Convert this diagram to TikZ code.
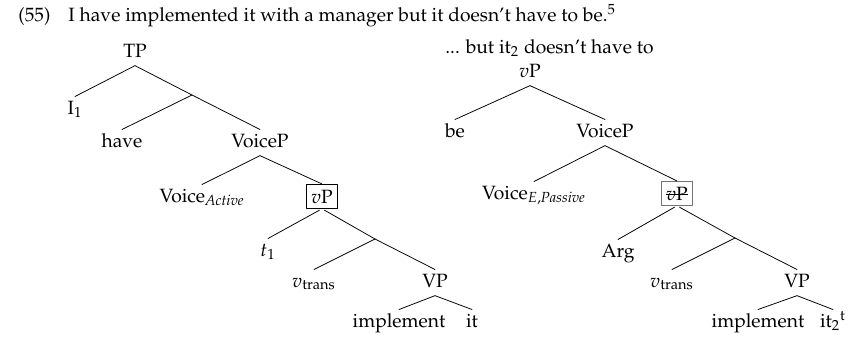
\documentclass[tikz,border=0pt]{standalone}
\usepackage[T1]{fontenc}
\usepackage{mathpazo}
\usepackage{amsmath}
\usepackage{tikz}

% struck-out label
\newcommand{\crossout}[1]{\setbox0\hbox{#1}\rlap{\rule[0.55ex]{\wd0}{0.4pt}}\box0}

\begin{document}
\begin{tikzpicture}[x=0.52pt, y=-0.52pt, line cap=round, line join=round,
    lbl/.style={anchor=base, inner xsep=0pt, inner ysep=1.8pt, text height=7.1pt, text depth=2.5pt},
    boxed/.style={anchor=base, draw, inner xsep=2.5pt, inner ysep=2.8pt, text height=6.9pt, text depth=0pt},
    frombox/.style={shorten <=1.5pt}]

  \useasboundingbox (0,0) rectangle (863,336);

  % Example sentence
  \node[anchor=base west, inner sep=0pt] (num) at (18,21) {(55)};
  \node[anchor=base west, inner sep=0pt] (sent) at (68,21) {I have implemented it with a manager but it doesn't have to be.\textsuperscript{5}};

  %--------------------------
  % Left tree: active
  %--------------------------
  \begin{scope}
    \node[lbl] (tp) at (135,57) {TP};
    \node[lbl] (i1) at (75,114) {I$_1$};
    \coordinate (b1) at (192,95);
    \node[lbl] (have) at (122,147) {have};
    \node[lbl] (vcp) at (260,147) {VoiceP};
    \node[lbl] (vca) at (202,202) {Voice$_{\textit{Active}}$};
    \node[boxed] (vp) at (322,203) {$v$P};
    \node[lbl] (t1) at (268,256) {$t_1$};
    \coordinate (b2) at (375,239);
    \node[lbl] (vt) at (314,287) {$v_{\text{trans}}$};
    \node[lbl] (vpp) at (435,287) {VP};
    \node[lbl] (impl) at (399,327) {implement};
    \node[lbl] (it) at (472,327) {it};

    \draw (tp.south) -- (i1.north);
    \draw (tp.south) -- (b1) -- (vcp.north);
    \draw (b1) -- (have.north);
    \draw (vcp.south) -- (vca.north);
    \draw (vcp.south) -- (vp.north);
    \draw[frombox] (vp.south) -- (t1.north);
    \draw[frombox] (vp.south) -- (b2);
    \draw (b2) -- (vpp.north);
    \draw (b2) -- (vt.north);
    \draw (vpp.south) -- (impl.north);
    \draw (vpp.south) -- (it.north);
  \end{scope}

  %--------------------------
  % Right tree: ellipsis
  %--------------------------
  \begin{scope}
    \node[anchor=base west, inner sep=0pt] (but) at (445,53) {... but it$_2$ doesn't have to};
    \node[lbl] (rvp) at (530,77) {$v$P};
    \node[lbl] (be) at (455,137) {be};
    \node[lbl] (rvcp) at (605,137) {VoiceP};
    \node[lbl] (vce) at (534,199) {Voice$_{E,\textit{Passive}}$};
    \node[boxed, draw=black!55] (rvpb) at (677,200) {\crossout{$v$P}};
    \node[lbl] (arg) at (618,257) {Arg};
    \coordinate (b3) at (735,238);
    \node[lbl] (rvt) at (672,287) {$v_{\text{trans}}$};
    \node[lbl] (rvpp) at (797,287) {VP};
    \node[lbl] (rimpl) at (758,327) {implement};
    \node[lbl] (it2) at (833,327) {it$_2{}^{\text{t}}$};

    \draw (rvp.south) -- (be.north);
    \draw (rvp.south) -- (rvcp.north);
    \draw (rvcp.south) -- (vce.north);
    \draw (rvcp.south) -- (rvpb.north);
    \draw[frombox] (rvpb.south) -- (arg.north);
    \draw[frombox] (rvpb.south) -- (b3);
    \draw (b3) -- (rvpp.north);
    \draw (b3) -- (rvt.north);
    \draw (rvpp.south) -- (rimpl.north);
    \draw (rvpp.south) -- (it2.north);
  \end{scope}

\end{tikzpicture}
\end{document}
